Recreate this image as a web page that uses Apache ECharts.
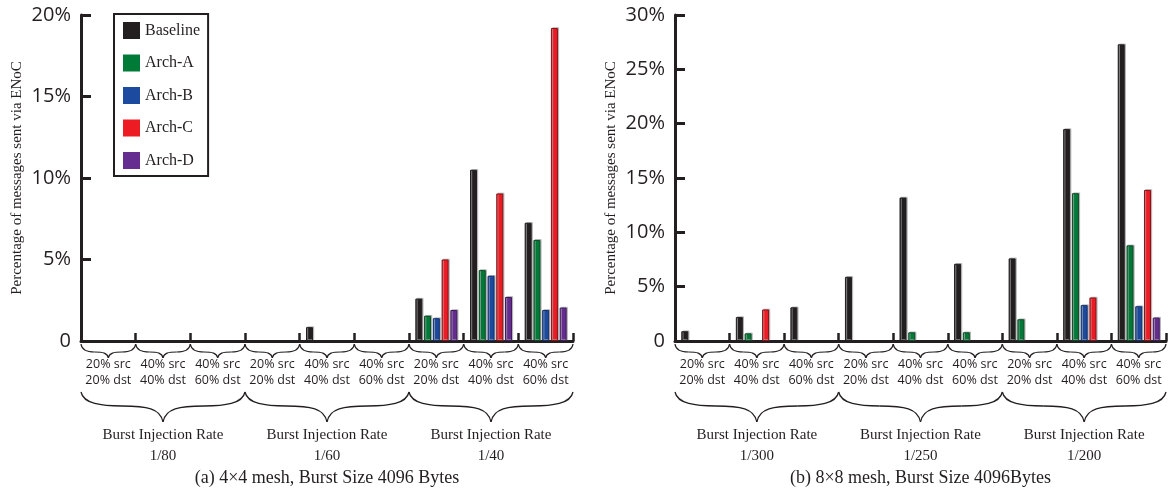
<!DOCTYPE html>
<html>
<head>
<meta charset="utf-8">
<script src="https://cdn.jsdelivr.net/npm/echarts@6/dist/echarts.min.js"></script>
<style>
  html, body { margin: 0; padding: 0; background: #ffffff; }
  #chart { width: 1168px; height: 490px; }
</style>
</head>
<body>
<div id="chart"></div>
<script>
// Traffic patterns shown under every bar cluster
const patterns = ['20% src\n20% dst', '40% src\n40% dst', '40% src\n60% dst'];
// Burst injection rates for each mesh
const ratesMesh4 = ['1/80', '1/60', '1/40'];
const ratesMesh8 = ['1/300', '1/250', '1/200'];
const seriesNames = ['Baseline', 'Arch-A', 'Arch-B', 'Arch-C', 'Arch-D'];

// 4x4 mesh: % of messages sent via ENoC
const mesh4Baseline = [0, 0, 0, 0, 0.85, 0, 2.6, 10.5, 7.25];
const mesh4ArchA    = [0, 0, 0, 0, 0, 0, 1.55, 4.35, 6.2];
const mesh4ArchB    = [0, 0, 0, 0, 0, 0, 1.4, 4.0, 1.9];
const mesh4ArchC    = [0, 0, 0, 0, 0, 0, 5.0, 9.05, 19.2];
const mesh4ArchD    = [0, 0, 0, 0, 0, 0, 1.9, 2.7, 2.05];

// 8x8 mesh: % of messages sent via ENoC
const mesh8Baseline = [0.9, 2.2, 3.1, 5.9, 13.2, 7.1, 7.6, 19.5, 27.3];
const mesh8ArchA    = [0, 0.7, 0, 0, 0.8, 0.8, 2.0, 13.6, 8.8];
const mesh8ArchB    = [0, 0, 0, 0, 0, 0, 0, 3.3, 3.2];
const mesh8ArchC    = [0, 2.9, 0, 0, 0, 0, 0, 4.0, 13.9];
const mesh8ArchD    = [0, 0, 0, 0, 0, 0, 0, 0, 2.15];

const captions = ['(a) 4\u00d74 mesh, Burst Size 4096 Bytes', '(b) 8\u00d78 mesh, Burst Size 4096Bytes'];
const yAxisTitle = 'Percentage of messages sent via ENoC';

const fills   = ['#231f20', '#007a37', '#1c4a9f', '#ed1c24', '#662d91'];
const borders = ['#231f20', '#0b4a26', '#10316e', '#8a1015', '#3f1a5c'];

const INK = '#231f20';
const SERIF = '"Liberation Serif", "Times New Roman", serif';
const SANS = '"Open Sans", "Noto Sans", sans-serif';

const mesh4Data = [mesh4Baseline, mesh4ArchA, mesh4ArchB, mesh4ArchC, mesh4ArchD];
const mesh8Data = [mesh8Baseline, mesh8ArchA, mesh8ArchB, mesh8ArchC, mesh8ArchD];

// Nine clusters per panel: the three patterns repeated for each rate
const clusters = [].concat(patterns, patterns, patterns);
const groupLabels = rates => rates.map(r => 'Burst Injection Rate\n' + r);

const grids = [
  { left: 81, top: 15, width: 492, height: 326 },
  { left: 675, top: 15, width: 491, height: 326 }
];

function detailAxis(gridIndex) {
  return {
    type: 'category', gridIndex, position: 'bottom', data: clusters,
    axisLine: { lineStyle: { color: INK, width: 3 } },
    axisTick: { show: true, inside: true, length: 8, lineStyle: { color: INK, width: 2.5 } },
    axisLabel: { interval: 0, margin: 15, color: INK, fontFamily: SANS, fontSize: 12.5, lineHeight: 16 },
    splitLine: { show: false }
  };
}
function groupAxis(gridIndex, rates) {
  return {
    type: 'category', gridIndex, position: 'bottom', data: groupLabels(rates),
    axisLine: { show: false }, axisTick: { show: false },
    axisLabel: { interval: 0, margin: 84, color: INK, fontFamily: SERIF, fontSize: 15, lineHeight: 21 },
    splitLine: { show: false }
  };
}
function valueAxis(gridIndex, max) {
  return {
    type: 'value', gridIndex, min: 0, max, interval: 5,
    name: yAxisTitle, nameLocation: 'middle', nameGap: 56,
    nameTextStyle: { fontFamily: SERIF, fontSize: 15, color: INK },
    axisLine: { show: true, lineStyle: { color: INK, width: 3 } },
    axisTick: { show: true, inside: true, length: 10, lineStyle: { color: INK, width: 3 } },
    axisLabel: {
      margin: 10, color: INK, fontFamily: SANS, fontSize: 20,
      formatter: v => (v === 0 ? '0' : v + '%')
    },
    splitLine: { show: false }
  };
}

// A zero value means no bar is drawn for that slot
function barSeries(dataSets, xAxisIndex, yAxisIndex) {
  return dataSets.map((values, i) => ({
    name: seriesNames[i], type: 'bar', xAxisIndex, yAxisIndex,
    data: values.map(v => (v === 0 ? '-' : v)), barWidth: 7, barGap: '25%',
    itemStyle: {
      color: fills[i], borderColor: borders[i], borderWidth: 1,
      shadowColor: 'rgba(165,165,165,0.75)', shadowOffsetX: 1.2, shadowOffsetY: -0.8, shadowBlur: 0
    },
    emphasis: { disabled: true }
  }));
}

const chart = echarts.init(document.getElementById('chart'), null, { renderer: 'canvas' });

chart.setOption({
  animation: false,
  backgroundColor: '#ffffff',
  grid: grids,
  xAxis: [detailAxis(0), groupAxis(0, ratesMesh4), detailAxis(1), groupAxis(1, ratesMesh8)],
  yAxis: [valueAxis(0, 20), valueAxis(1, 30)],
  legend: {
    data: seriesNames, orient: 'vertical', left: 114, top: 14,
    padding: [8, 8, 7, 9], itemWidth: 17, itemHeight: 17, itemGap: 15.5,
    borderColor: INK, borderWidth: 2, borderRadius: 0,
    icon: 'rect', itemStyle: { borderWidth: 0, shadowBlur: 0, shadowOffsetX: 0, shadowOffsetY: 0 },
    textStyle: { fontFamily: SERIF, fontSize: 16, color: INK },
    selectedMode: false
  },
  series: [].concat(barSeries(mesh4Data, 0, 0), barSeries(mesh8Data, 2, 1))
});

// Curly brace (opening downward) between x0 and x1, built from four bezier pieces
function brace(x0, x1, yTop, yMid, yTip, lw) {
  const xm = (x0 + x1) / 2, w = (x1 - x0) / 2, h = yMid - yTop, d = yTip - yMid;
  const pieces = [
    { x1: x0, y1: yTop, cpx1: x0 + 0.03 * w, cpy1: yTop + 0.85 * h, cpx2: x0 + 0.25 * w, cpy2: yMid, x2: x0 + 0.5 * w, y2: yMid },
    { x1: x0 + 0.5 * w, y1: yMid, cpx1: xm - 0.2 * w, cpy1: yMid, cpx2: xm - 0.03 * w, cpy2: yMid + 0.15 * d, x2: xm, y2: yTip },
    { x1: xm, y1: yTip, cpx1: xm + 0.03 * w, cpy1: yMid + 0.15 * d, cpx2: xm + 0.2 * w, cpy2: yMid, x2: xm + 0.5 * w, y2: yMid },
    { x1: xm + 0.5 * w, y1: yMid, cpx1: x1 - 0.25 * w, cpy1: yMid, cpx2: x1 - 0.03 * w, cpy2: yTop + 0.85 * h, x2: x1, y2: yTop }
  ];
  return pieces.map(shape => ({
    type: 'bezierCurve', silent: true, shape,
    style: { fill: null, stroke: INK, lineWidth: lw }
  }));
}

const graphics = [];
[0, 2].forEach((axisIndex, panel) => {
  const c0 = chart.convertToPixel({ xAxisIndex: axisIndex }, 0);
  const c1 = chart.convertToPixel({ xAxisIndex: axisIndex }, 1);
  const band = c1 - c0;
  const start = c0 - band / 2;
  // one small brace under each cluster
  clusters.forEach((_, k) => {
    graphics.push(...brace(start + k * band, start + (k + 1) * band, 344, 352, 358, 1.2));
  });
  // one large brace under each rate group
  for (let g = 0; g < 3; g++) {
    graphics.push(...brace(start + g * 3 * band, start + (g + 1) * 3 * band, 392, 406, 422, 1.3));
  }
  graphics.push({
    type: 'text', silent: true, x: start + 4.5 * band, y: 478,
    style: { text: captions[panel], fontFamily: SERIF, fontSize: 18, fill: INK, align: 'center', verticalAlign: 'middle' }
  });
});

chart.setOption({ graphic: graphics });
</script>
</body>
</html>
